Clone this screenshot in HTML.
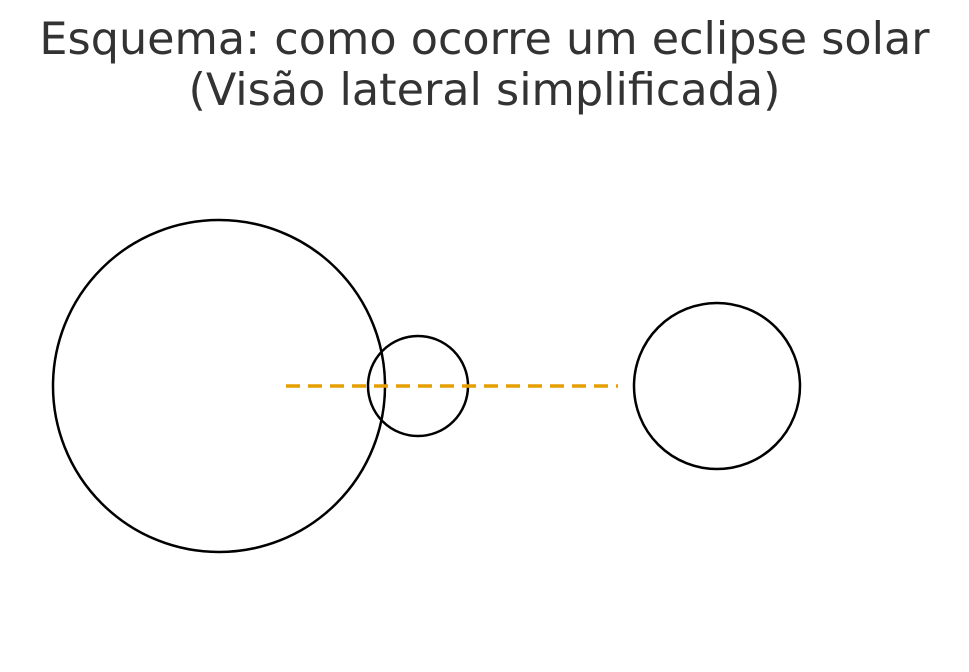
<!DOCTYPE html>
<html><head><meta charset="utf-8">
<style>
html,body{margin:0;padding:0;background:#fff;}
svg{display:block;}
</style></head>
<body>
<svg id="chart" width="969" height="672" viewBox="0 0 969 672" xmlns="http://www.w3.org/2000/svg">
  <text x="484.5" y="54" text-anchor="middle" font-family="DejaVu Sans, Liberation Sans, sans-serif" font-size="44.5" fill="#333333">Esquema: como ocorre um eclipse solar</text>
  <text x="484.5" y="105" text-anchor="middle" font-family="DejaVu Sans, Liberation Sans, sans-serif" font-size="44.5" fill="#333333">(Visão lateral simplificada)</text>
  <g id="bodies"></g>
</svg>
<script>
const bodyNames = ['sun-circle', 'moon-circle', 'earth-circle'];
const bodyCx = [219, 418, 717];
const bodyCy = [386, 386, 386];
const bodyR = [166, 50, 83];
const lineStartX = [286];
const lineEndX = [618];
const lineY = [386];

const NS = 'http://www.w3.org/2000/svg';
const g = document.getElementById('bodies');
for (let i = 0; i < bodyNames.length; i++) {
  const c = document.createElementNS(NS, 'circle');
  c.setAttribute('cx', bodyCx[i]);
  c.setAttribute('cy', bodyCy[i]);
  c.setAttribute('r', bodyR[i]);
  c.setAttribute('fill', 'none');
  c.setAttribute('stroke', '#000');
  c.setAttribute('stroke-width', '2.5');
  
  
  g.appendChild(c);
}
const l = document.createElementNS(NS, 'line');
l.setAttribute('x1', lineStartX[0]);
l.setAttribute('x2', lineEndX[0]);
l.setAttribute('y1', lineY[0]);
l.setAttribute('y2', lineY[0]);
l.setAttribute('stroke', '#E69F00');
l.setAttribute('stroke-width', '3.5');
l.setAttribute('stroke-dasharray', '14 8');


g.appendChild(l);
</script>
</body></html>
